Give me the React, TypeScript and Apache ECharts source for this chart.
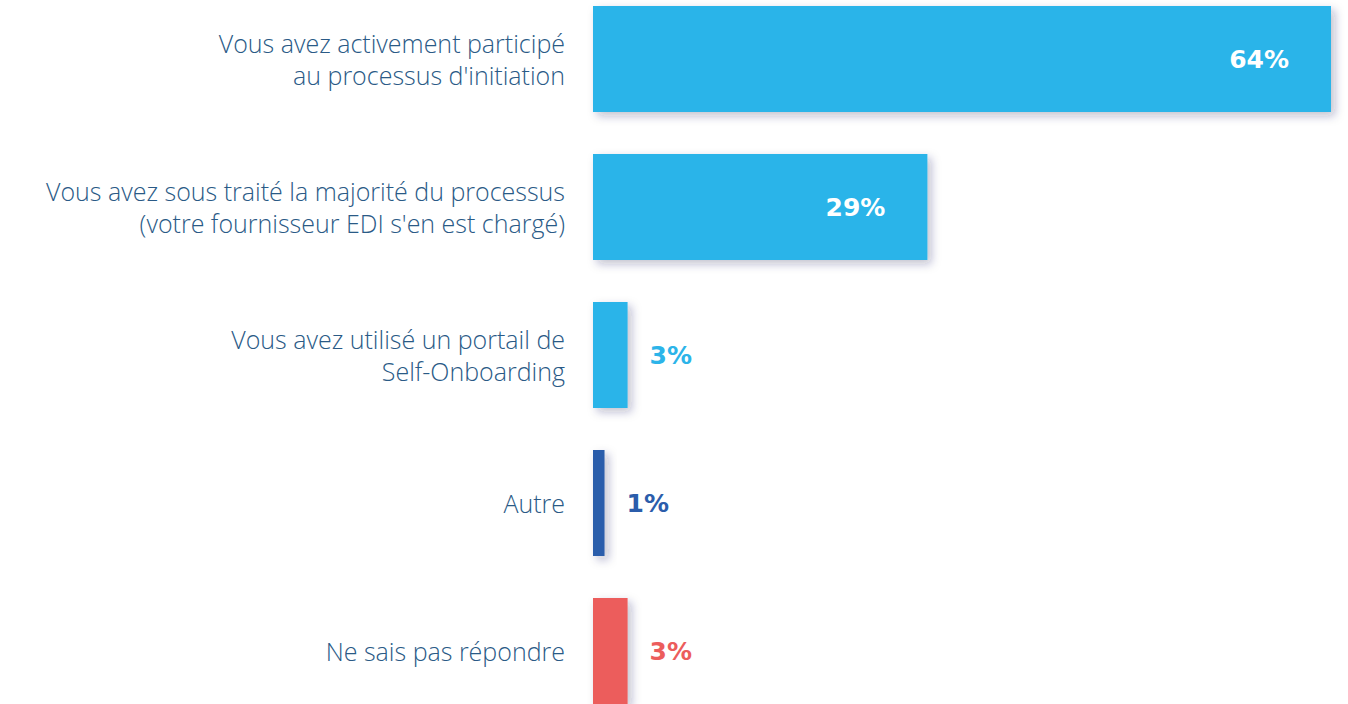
import React, { useEffect, useRef } from "react";
import * as echarts from "echarts";

const categories = [
  "Vous avez activement participé\nau processus d'initiation",
  "Vous avez sous traité la majorité du processus\n(votre fournisseur EDI s'en est chargé)",
  "Vous avez utilisé un portail de\nSelf-Onboarding",
  "Autre",
  "Ne sais pas répondre",
];
const values = [64, 29, 3, 1, 3];
const barColors = ["#2cb4e9", "#2cb4e9", "#2cb4e9", "#2b5dab", "#ec5d5c"];

export default function App() {
  const ref = useRef<HTMLDivElement>(null);
  useEffect(() => {
    if (!ref.current) return;
    const chart = echarts.init(ref.current, null, { renderer: "svg" });
    const data = values.map((v, i) => {
      const inside = v >= 10;
      return {
        value: v,
        itemStyle: {
          color: barColors[i],
          shadowColor: "rgba(40,40,90,0.28)",
          shadowBlur: 10,
          shadowOffsetX: 4,
          shadowOffsetY: 4,
        },
        label: {
          show: true,
          position: inside ? "insideRight" : "right",
          distance: inside ? 42 : 22,
          color: inside ? "#ffffff" : barColors[i],
          fontFamily: "DejaVu Sans",
          fontWeight: "bold",
          fontSize: 25,
          formatter: "{c}%",
        },
      };
    });
    chart.setOption({
      animation: false,
      backgroundColor: "#ffffff",
      grid: { left: 593, right: 17, top: 0, bottom: 0, containLabel: false },
      xAxis: {
        type: "value",
        min: 0,
        max: 64,
        show: false,
      },
      yAxis: {
        type: "category",
        data: categories,
        inverse: true,
        axisLine: { show: false },
        axisTick: { show: false },
        splitLine: { show: false },
        axisLabel: {
          margin: 28,
          color: "#2a5a86",
          fontFamily: "Open Sans",
          fontWeight: 300,
          fontSize: 25,
          lineHeight: 32,
          align: "right",
        },
      },
      series: [
        {
          type: "bar",
          data,
          barWidth: 106,
        },
      ],
    });
    return () => chart.dispose();
  }, []);
  return (
    <div
      ref={ref}
      style={{ position: "fixed", left: 0, top: -15, width: 1348, height: 740 }}
    />
  );
}
